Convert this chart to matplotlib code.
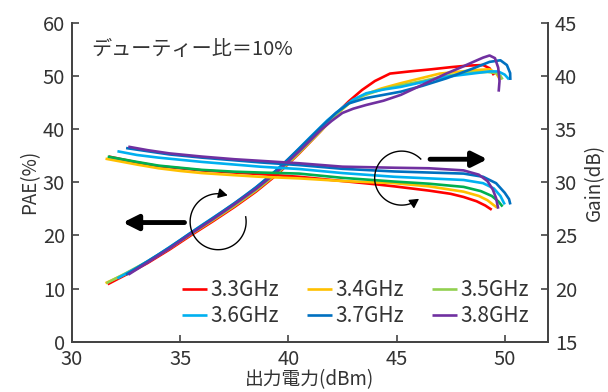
import numpy as np
import matplotlib
matplotlib.use("Agg")
import matplotlib.pyplot as plt

plt.rcParams['font.family'] = ['Noto Sans CJK JP', 'DejaVu Sans']

labels = ["3.3GHz", "3.4GHz", "3.5GHz", "3.6GHz", "3.7GHz", "3.8GHz"]
colors = ["#ff0000", "#ffc000", "#92d050", "#00b0f0", "#0070c0", "#7030a0"]
gain_colors = ["#ff0000", "#ffc000", "#00b050", "#00b0f0", "#0070c0", "#7030a0"]

# PAE (%) vs output power (dBm)
pae_x_33 = [31.65, 32.5, 33.5, 34.5, 35.5, 36.5, 37.5, 38.5, 39.5, 40.5, 41.5, 42.2, 42.8, 43.4, 44.0, 44.7, 45.6, 46.6, 47.5, 48.3, 49.0, 49.3, 49.5]
pae_y_33 = [10.8, 12.6, 14.8, 17.3, 20.0, 22.6, 25.3, 28.2, 31.5, 35.4, 39.6, 42.8, 45.2, 47.3, 49.0, 50.4, 50.8, 51.2, 51.6, 51.9, 52.0, 51.4, 50.1]
pae_x_34 = [31.55, 32.5, 33.5, 34.5, 35.5, 36.5, 37.5, 38.5, 39.5, 40.5, 41.5, 42.2, 42.8, 43.5, 44.3, 45.2, 46.2, 47.0, 48.0, 48.8, 49.3, 49.6, 49.8]
pae_y_34 = [11.0, 12.8, 15.0, 17.5, 20.2, 22.8, 25.5, 28.4, 31.7, 35.5, 39.6, 42.6, 44.8, 46.4, 47.6, 48.6, 49.6, 50.4, 50.8, 51.1, 51.2, 50.5, 49.2]
pae_x_35 = [31.6, 32.5, 33.5, 34.5, 35.5, 36.5, 37.5, 38.5, 39.5, 40.5, 41.5, 42.2, 42.8, 43.5, 44.3, 45.2, 46.2, 47.3, 48.5, 49.2, 49.6, 49.8, 49.9]
pae_y_35 = [11.0, 12.9, 15.1, 17.6, 20.3, 22.9, 25.6, 28.5, 31.8, 35.6, 39.7, 42.7, 44.8, 46.3, 47.4, 48.2, 49.0, 50.0, 50.6, 50.7, 50.5, 50.0, 49.3]
pae_x_36 = [32.1, 33.0, 34.0, 35.0, 36.0, 37.0, 38.0, 39.0, 40.0, 41.0, 41.8, 42.5, 43.0, 43.6, 44.4, 45.2, 46.2, 47.3, 48.5, 49.3, 49.7, 50.0, 50.2]
pae_y_36 = [11.9, 13.9, 16.4, 19.1, 21.9, 24.6, 27.4, 30.6, 34.3, 38.4, 41.6, 44.0, 45.5, 46.7, 47.4, 47.9, 48.8, 49.8, 50.4, 50.8, 50.8, 50.2, 49.3]
pae_x_37 = [32.5, 33.5, 34.5, 35.5, 36.5, 37.5, 38.5, 39.5, 40.5, 41.5, 42.2, 42.8, 43.6, 44.4, 45.2, 46.2, 47.3, 48.5, 49.3, 49.8, 50.1, 50.25, 50.26]
pae_y_37 = [12.6, 15.1, 17.7, 20.5, 23.2, 26.0, 29.0, 32.4, 36.3, 40.3, 43.0, 44.8, 45.8, 46.4, 47.0, 48.1, 49.5, 51.3, 52.6, 52.9, 52.0, 50.5, 49.2]
pae_x_38 = [32.6, 33.5, 34.5, 35.5, 36.5, 37.5, 38.5, 39.5, 40.5, 41.5, 42.0, 42.5, 43.0, 43.6, 44.4, 45.2, 46.2, 47.3, 48.0, 48.55, 49.0, 49.3, 49.55, 49.7, 49.76, 49.72]
pae_y_38 = [12.6, 14.9, 17.5, 20.3, 23.0, 25.8, 28.7, 32.0, 35.8, 39.8, 41.5, 43.0, 43.8, 44.5, 45.3, 46.4, 48.3, 50.4, 51.6, 52.6, 53.4, 53.8, 53.3, 51.5, 49.0, 47.0]

# Gain (dB) vs output power (dBm)
gain_x_33 = [31.7, 33, 34, 35, 36, 37.5, 38.7, 40.5, 42.5, 44.0, 44.9, 46.5, 47.5, 48.1, 48.7, 49.1, 49.4]
gain_y_33 = [32.4, 31.85, 31.5, 31.3, 31.1, 30.9, 30.75, 30.5, 30.1, 29.8, 29.6, 29.2, 28.9, 28.6, 28.2, 27.8, 27.4]
gain_x_34 = [31.55, 33, 34, 35, 36, 37.5, 38.7, 40.5, 42.5, 44.9, 46.5, 48.1, 48.8, 49.2, 49.45, 49.65]
gain_y_34 = [32.2, 31.65, 31.3, 31.05, 30.85, 30.65, 30.5, 30.35, 30.1, 29.9, 29.6, 29.1, 28.7, 28.3, 27.9, 27.6]
gain_x_35 = [31.65, 33, 34, 35, 36, 37.5, 38.7, 40.5, 42.5, 44.9, 46.5, 48.1, 48.9, 49.4, 49.7, 49.9]
gain_y_35 = [32.4, 31.9, 31.55, 31.35, 31.15, 30.98, 30.9, 30.8, 30.4, 30.05, 29.85, 29.55, 29.15, 28.7, 28.2, 27.7]
gain_x_36 = [32.1, 33, 34, 35, 36, 37.5, 38.7, 40.5, 42.5, 44.9, 46.5, 48.1, 49.0, 49.5, 49.8, 50.0]
gain_y_36 = [32.9, 32.55, 32.3, 32.1, 31.9, 31.65, 31.45, 31.23, 30.85, 30.5, 30.35, 30.2, 29.9, 29.4, 28.7, 27.9]
gain_x_37 = [32.5, 33.5, 34.5, 36, 37.5, 38.7, 40.5, 42.5, 44.9, 46.5, 48.1, 49.0, 49.6, 50.0, 50.2, 50.26]
gain_y_37 = [33.2, 32.9, 32.6, 32.3, 32.05, 31.85, 31.6, 31.25, 31.0, 30.9, 30.8, 30.5, 29.9, 29.0, 28.4, 27.9]
gain_x_38 = [32.6, 33.5, 34.5, 36, 37.5, 38.7, 40.5, 42.5, 44.9, 46.5, 48.1, 48.8, 49.2, 49.45, 49.6, 49.7]
gain_y_38 = [33.33, 33.0, 32.7, 32.4, 32.15, 32.0, 31.77, 31.45, 31.35, 31.3, 31.1, 30.7, 30.1, 29.3, 28.5, 27.5]

pae_x = [pae_x_33, pae_x_34, pae_x_35, pae_x_36, pae_x_37, pae_x_38]
pae_y = [pae_y_33, pae_y_34, pae_y_35, pae_y_36, pae_y_37, pae_y_38]
gain_x = [gain_x_33, gain_x_34, gain_x_35, gain_x_36, gain_x_37, gain_x_38]
gain_y = [gain_y_33, gain_y_34, gain_y_35, gain_y_36, gain_y_37, gain_y_38]

TXT = "#333333"


def circle_arrow(ax, cx, cy, r, w_px, h_px, a0, a1):
    # open circle with an arrowhead, drawn in axes fraction so it stays round
    t = np.radians(np.linspace(a0, a1, 120))
    xs = cx + r * np.cos(t) / w_px
    ys = cy + r * np.sin(t) / h_px
    ax.plot(xs[:-3], ys[:-3], color="black", lw=1.0, transform=ax.transAxes, zorder=6)
    ax.annotate("", xy=(xs[-1], ys[-1]), xytext=(xs[-6], ys[-6]),
                xycoords="axes fraction", textcoords="axes fraction",
                arrowprops=dict(arrowstyle="-|>,head_length=0.55,head_width=0.3",
                                color="black", lw=1.0, shrinkA=0, shrinkB=0),
                zorder=6)


fig = plt.figure(figsize=(6.08, 3.92), dpi=100)
ax = fig.add_axes([0.1184, 0.1283, 0.7829, 0.8143])
ax2 = ax.twinx()

for i in range(6):
    ax.plot(pae_x[i], pae_y[i], color=colors[i], lw=1.9, label=labels[i], solid_capstyle="butt")
    ax2.plot(gain_x[i], gain_y[i], color=gain_colors[i], lw=1.9, solid_capstyle="butt")

ax.set_xlim(30, 52)
ax.set_ylim(0, 60)
ax2.set_ylim(15, 45)
ax.set_xticks([30, 35, 40, 45, 50])
ax.set_yticks(range(0, 61, 10))
ax2.set_yticks(range(15, 46, 5))

for a in (ax, ax2):
    a.spines["top"].set_visible(False)
    for s in ("left", "right", "bottom"):
        a.spines[s].set_color("#444444")
        a.spines[s].set_linewidth(1.3)
    a.tick_params(direction="in", length=5, width=1.2, color="#444444",
                  labelsize=14.5, labelcolor=TXT, pad=5)
ax.tick_params(axis="x", pad=5.5)

ax.set_xlabel("出力電力(dBm)", fontsize=13.5, color=TXT, labelpad=-1)
ax.set_ylabel("PAE(%)", fontsize=13.5, color=TXT, labelpad=2)
ax2.set_ylabel("Gain(dB)", fontsize=13.5, color=TXT, labelpad=5)

ax.text(0.04, 0.915, "デューティー比＝10%", transform=ax.transAxes,
        fontsize=14.5, color=TXT, va="center", ha="left")

# direction arrows
w_px, h_px = 476.0, 319.2
ax2.annotate("", xy=(32.35, 22.4), xytext=(35.2, 22.4), xycoords=ax.transData,
             textcoords=ax.transData,
             arrowprops=dict(arrowstyle="-|>,head_length=0.9,head_width=0.45",
                             color="black", lw=3.5, shrinkA=0, shrinkB=0))
ax2.annotate("", xy=(49.2, 34.3), xytext=(46.55, 34.3), xycoords=ax.transData,
             textcoords=ax.transData,
             arrowprops=dict(arrowstyle="-|>,head_length=0.9,head_width=0.45",
                             color="black", lw=3.5, shrinkA=0, shrinkB=0))
circle_arrow(ax2, 0.307, 0.376, 28, w_px, h_px, 10, -290)
circle_arrow(ax2, 0.6926, 0.5125, 27, w_px, h_px, 45, 310)

# legend filled row by row
h, l = ax.get_legend_handles_labels()
order = [0, 3, 1, 4, 2, 5]
leg = ax2.legend([h[i] for i in order], [l[i] for i in order], ncol=3,
                 loc="lower right", bbox_to_anchor=(0.96, 0.045),
                 frameon=False, fontsize=15, handlelength=1.2, handletextpad=0.15,
                 columnspacing=1.35, labelspacing=0.2, borderpad=0, borderaxespad=0)
for t in leg.get_texts():
    t.set_color(TXT)

fig.savefig("out.png", dpi=100)
